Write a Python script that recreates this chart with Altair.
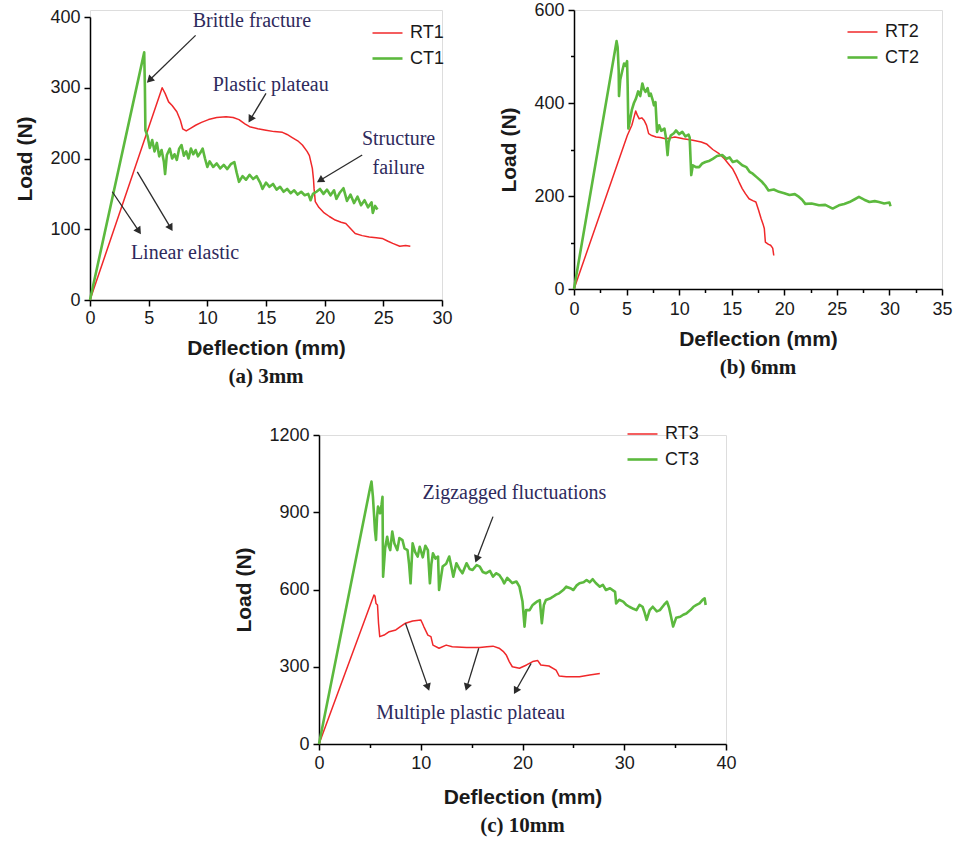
import math
import altair as alt
import pandas as pd

RED = "#f0282a"
GREEN = "#5cb93e"
INK = "#1a1a1a"
NOTE = "#2e2a5c"
ARROW = "#2b2b2b"
SANS = "Liberation Sans"
SERIF = "Liberation Serif"

# Load-deflection curves: (deflection in mm, load in N)
RT1 = [(0, 0), (6.15, 300), (6.4, 292), (6.7, 280), (7.0, 275), (7.4, 266), (7.7, 254), (7.9, 242),
       (8.2, 239), (8.6, 243), (9.0, 247), (9.5, 251), (10.1, 255), (10.8, 258), (11.6, 259), (12.2, 258),
       (12.7, 255), (13.2, 249), (13.6, 245), (14.3, 242), (15.0, 240), (15.7, 238), (16.4, 237), (16.8, 234),
       (17.2, 230), (17.7, 225), (18.1, 219), (18.5, 210), (18.7, 204), (18.95, 186), (19.05, 170), (19.1, 157),
       (19.2, 139), (19.5, 131), (19.9, 124), (20.4, 118), (20.9, 113), (21.4, 110), (21.8, 108), (22.2, 101),
       (22.6, 94), (23.2, 91), (23.8, 89), (24.4, 88), (24.9, 87), (25.4, 83), (25.8, 80), (26.4, 76),
       (26.9, 77), (27.3, 76)]
CT1 = [(0, 0), (4.62, 350), (4.68, 300), (4.72, 240), (4.9, 232), (5.1, 215), (5.3, 226), (5.5, 210),
       (5.7, 222), (5.9, 203), (6.1, 212), (6.3, 195), (6.4, 178), (6.55, 205), (6.8, 214), (7.0, 200),
       (7.2, 206), (7.4, 198), (7.6, 214), (7.8, 219), (8.0, 204), (8.2, 210), (8.4, 200), (8.6, 214),
       (8.8, 206), (9.0, 212), (9.2, 203), (9.4, 208), (9.6, 214), (9.8, 200), (10.0, 188), (10.2, 196),
       (10.5, 188), (10.8, 193), (11.1, 186), (11.4, 191), (11.7, 185), (12.0, 192), (12.3, 195), (12.5, 180),
       (12.7, 167), (13.0, 175), (13.3, 170), (13.6, 177), (13.9, 171), (14.2, 175), (14.5, 166), (14.7, 157),
       (15.0, 166), (15.3, 160), (15.6, 164), (15.9, 156), (16.2, 160), (16.5, 153), (16.8, 157), (17.1, 151),
       (17.4, 155), (17.7, 149), (18.0, 153), (18.3, 148), (18.6, 150), (18.8, 141), (19.0, 150), (19.3, 153),
       (19.6, 157), (19.9, 150), (20.2, 156), (20.5, 148), (20.8, 155), (21.0, 143), (21.3, 152), (21.6, 158),
       (21.9, 140), (22.2, 149), (22.5, 137), (22.8, 146), (23.1, 134), (23.4, 141), (23.7, 131), (24.0, 138),
       (24.1, 123), (24.3, 133), (24.5, 128)]

RT2 = [(0, 0), (5.07, 330), (5.5, 352), (5.87, 383), (6.0, 375), (6.2, 366), (6.45, 368), (6.66, 363),
       (6.9, 352), (7.1, 334), (7.4, 330), (7.8, 327), (8.2, 326), (8.7, 323), (9.2, 325), (9.6, 327),
       (10.4, 323), (11.3, 320), (12.1, 316), (12.6, 312), (13.2, 300), (13.8, 291), (14.3, 280), (14.8, 266),
       (15.1, 258), (15.4, 245), (15.7, 230), (16.0, 216), (16.3, 205), (16.65, 194), (17.0, 190), (17.3, 187),
       (17.55, 170), (17.8, 151), (18.0, 138), (18.1, 130), (18.2, 101), (18.5, 96), (18.7, 94), (18.9, 88),
       (19.0, 72)]
CT2 = [(0, 0), (4.05, 533), (4.15, 520), (4.25, 470), (4.28, 415), (4.4, 450), (4.6, 470), (4.76, 485),
       (4.9, 480), (5.05, 490), (5.1, 440), (5.17, 345), (5.3, 360), (5.5, 385), (5.7, 400), (5.9, 410),
       (6.1, 425), (6.3, 415), (6.5, 442), (6.65, 430), (6.8, 424), (7.0, 432), (7.15, 415), (7.3, 420),
       (7.5, 405), (7.6, 395), (7.75, 402), (7.9, 338), (8.1, 352), (8.3, 340), (8.6, 345), (8.75, 325),
       (8.9, 288), (9.0, 316), (9.2, 330), (9.5, 335), (9.7, 341), (10.0, 333), (10.3, 338), (10.6, 328),
       (10.9, 332), (11.0, 326), (11.15, 245), (11.3, 266), (11.6, 262), (11.9, 262), (12.2, 270), (12.5, 273),
       (12.9, 276), (13.2, 280), (13.6, 286), (14.1, 288), (14.5, 280), (14.8, 283), (15.1, 273), (15.5, 276),
       (16.0, 266), (16.4, 262), (16.7, 252), (17.0, 248), (17.4, 240), (17.9, 230), (18.2, 222), (18.5, 212),
       (19.0, 214), (19.5, 209), (20.0, 206), (20.5, 202), (21.0, 204), (21.4, 198), (21.7, 192), (22.0, 183),
       (22.6, 184), (23.3, 180), (23.9, 181), (24.6, 173), (25.2, 180), (25.7, 183), (26.2, 187), (26.7, 193),
       (27.1, 198), (27.6, 192), (28.1, 187), (28.6, 189), (29.0, 187), (29.5, 184), (30.0, 186), (30.1, 178)]

RT3 = [(0, 0), (5.4, 579), (5.5, 575), (5.6, 546), (5.75, 540), (5.85, 469), (5.97, 417), (6.4, 423),
       (6.9, 436), (7.55, 443), (8.0, 456), (8.5, 469), (9.2, 478), (10.0, 482), (10.15, 470), (10.3, 456),
       (10.7, 423), (11.0, 417), (11.2, 384), (11.8, 372), (12.5, 384), (13.1, 378), (14.5, 375), (15.8, 375),
       (16.5, 378), (17.1, 380), (17.7, 372), (18.1, 360), (18.4, 346), (18.7, 320), (19.0, 300), (19.7, 294),
       (20.4, 307), (21.0, 320), (21.5, 324), (21.8, 307), (22.6, 303), (23.3, 287), (23.6, 264), (24.3, 261),
       (25.6, 261), (26.6, 268), (27.6, 274)]
CT3 = [(0, 0), (5.0, 990), (5.16, 1019), (5.3, 960), (5.4, 896), (5.5, 830), (5.6, 792), (5.7, 880),
       (5.8, 922), (6.0, 896), (6.15, 930), (6.24, 960), (6.3, 650), (6.5, 760), (6.7, 805), (6.85, 770),
       (7.0, 753), (7.2, 825), (7.4, 780), (7.7, 753), (7.9, 800), (8.2, 792), (8.4, 760), (8.7, 753),
       (8.85, 700), (9.0, 624), (9.2, 779), (9.45, 745), (9.7, 728), (9.9, 766), (10.2, 725), (10.45, 770),
       (10.7, 753), (10.9, 624), (11.05, 700), (11.2, 741), (11.45, 720), (11.7, 728), (11.8, 598), (12.15, 689),
       (12.5, 700), (12.8, 728), (13.0, 690), (13.2, 650), (13.5, 702), (13.8, 680), (14.1, 663), (14.5, 702),
       (14.8, 680), (15.1, 676), (15.5, 695), (15.8, 689), (16.1, 668), (16.4, 663), (16.8, 672), (17.1, 650),
       (17.4, 663), (17.7, 657), (18.0, 640), (18.2, 624), (18.5, 645), (18.7, 637), (19.0, 625), (19.4, 631),
       (19.7, 611), (20.0, 553), (20.2, 456), (20.35, 520), (20.7, 520), (21.0, 540), (21.2, 546), (21.5, 555),
       (21.7, 559), (21.9, 469), (22.1, 540), (22.3, 559), (22.7, 565), (23.0, 572), (23.3, 580), (23.6, 585),
       (24.0, 598), (24.3, 611), (24.7, 605), (25.0, 598), (25.3, 615), (25.6, 624), (26.0, 628), (26.3, 637),
       (26.6, 628), (26.9, 640), (27.2, 625), (27.6, 611), (27.9, 618), (28.2, 598), (28.6, 605), (29.1, 591),
       (29.2, 546), (29.5, 560), (29.9, 553), (30.2, 540), (30.5, 533), (30.9, 525), (31.2, 520), (31.5, 540),
       (31.8, 533), (32.0, 510), (32.2, 482), (32.5, 520), (32.8, 533), (33.2, 515), (33.5, 520), (33.9, 540),
       (34.2, 553), (34.4, 530), (34.6, 494), (34.8, 456), (35.1, 490), (35.5, 494), (35.8, 502), (36.1, 507),
       (36.5, 520), (36.8, 533), (37.1, 540), (37.4, 546), (37.7, 560), (37.9, 566), (38.0, 540)]

# Annotation arrows (x_start, y_start, x_end, y_end) and labels (text, x, y), in data units
ARROWS_A = [(9.0, 374, 4.9, 308), (15.0, 292, 13.55, 252), (23.2, 205, 19.4, 167),
            (1.9, 153, 4.3, 94), (4.03, 181, 7.0, 98.5)]
NOTES_A = [("Brittle fracture", 13.8, 394), ("Plastic plateau", 15.4, 304),
           ("Structure", 26.3, 228), ("failure", 26.3, 187), ("Linear elastic", 8.1, 66)]
ARROWS_C = [(17.1, 883, 15.4, 708), (8.5, 469, 10.8, 210), (15.7, 372, 14.45, 210), (20.85, 313, 19.2, 197)]
NOTES_C = [("Zigzagged fluctuations", 19.2, 974), ("Multiple plastic plateau", 14.9, 119)]


def frange(stop, step):
    n = int(round(stop / step))
    return [round(i * step, 4) for i in range(n + 1)]


def make_axis(title, values, major, label_pad, title_pad):
    return alt.Axis(
        title=title, values=values, grid=False, format="d",
        labelExpr=f"datum.value % {major} === 0 ? datum.label : ''",
        tickSize={"condition": {"test": f"datum.value % {major} !== 0", "value": 3.5}, "value": 6},
        domainColor="black", domainWidth=1.5, tickColor="black", tickWidth=1.5,
        labelFont=SANS, labelFontSize=18, labelColor=INK, labelPadding=label_pad,
        labelFlush=False, labelOverlap=False,
        titleFont=SANS, titleFontSize=21, titleFontWeight="bold", titleColor=INK,
        titlePadding=title_pad,
    )


def panel(rt, ct, names, caption, xmax, xmajor, xminor, ymax, ymajor, yminor,
          width, height, top, legend_xy, arrows=(), notes=(), xlabel_pad=3, xtitle_pad=10):
    rows = []
    for name, pts in zip(names, (rt, ct)):
        for i, (x, y) in enumerate(pts):
            rows.append({"x": x, "y": y, "series": name, "i": i})
    df = pd.DataFrame(rows)

    xs = alt.Scale(domain=[0, xmax], nice=False, zero=True)
    ys = alt.Scale(domain=[0, ymax], nice=False, zero=True, range=[height, top])
    xax = make_axis("Deflection (mm)", frange(xmax, xminor), xmajor, xlabel_pad, xtitle_pad)
    yax = make_axis("Load (N)", frange(ymax, yminor), ymajor, 4, 14)

    lines = alt.Chart(df).mark_line(strokeJoin="round").encode(
        x=alt.X("x:Q", scale=xs, axis=xax),
        y=alt.Y("y:Q", scale=ys, axis=yax),
        color=alt.Color("series:N", scale=alt.Scale(domain=list(names), range=[RED, GREEN]),
                        legend=alt.Legend(orient="none", legendX=legend_xy[0], legendY=legend_xy[1],
                                          title=None, symbolType="stroke", symbolSize=900,
                                          symbolStrokeWidth=1.8, labelFont=SANS, labelFontSize=18,
                                          labelColor=INK, labelOffset=6, rowPadding=0, padding=0)),
        strokeWidth=alt.StrokeWidth("series:N", scale=alt.Scale(domain=list(names), range=[1.5, 2.6]),
                                    legend=None),
        order="i:Q",
    )
    layers = [lines]

    if arrows:
        kx = width / xmax
        ky = (height - top) / ymax
        segs, heads = [], []
        for x1, y1, x2, y2 in arrows:
            dx = (x2 - x1) * kx
            dy = -(y2 - y1) * ky
            ln = math.hypot(dx, dy)
            ux, uy = dx / ln, dy / ln
            cx = x2 - 4 * ux / kx
            cy = y2 + 4 * uy / ky
            ang = math.degrees(math.atan2(dx, -dy)) % 360
            segs.append({"x": x1, "y": y1, "x2": cx, "y2": cy})
            heads.append({"x": cx, "y": cy, "angle": ang})
        layers.append(alt.Chart(pd.DataFrame(segs)).mark_rule(color=ARROW, strokeWidth=1.3).encode(
            x=alt.X("x:Q", scale=xs), y=alt.Y("y:Q", scale=ys), x2="x2:Q", y2="y2:Q"))
        layers.append(alt.Chart(pd.DataFrame(heads)).mark_point(
            shape="triangle", filled=True, size=70, color=ARROW, opacity=1).encode(
            x=alt.X("x:Q", scale=xs), y=alt.Y("y:Q", scale=ys),
            angle=alt.Angle("angle:Q", scale=None)))
    if notes:
        ndf = pd.DataFrame([{"t": t, "x": x, "y": y} for t, x, y in notes])
        layers.append(alt.Chart(ndf).mark_text(font=SERIF, fontSize=20, color=NOTE).encode(
            x=alt.X("x:Q", scale=xs), y=alt.Y("y:Q", scale=ys), text="t:N"))

    return alt.layer(*layers).properties(
        width=width, height=height,
        title=alt.TitleParams(caption, orient="bottom", anchor="middle", frame="group",
                              font=SERIF, fontSize=21, fontWeight="bold", color=INK, offset=8),
    )


pa = panel(RT1, CT1, ("RT1", "CT1"), "(a) 3mm", 30, 5, 2.5, 400, 100, 50,
           352, 290, 7, (281, 7), ARROWS_A, NOTES_A)
pb = panel(RT2, CT2, ("RT2", "CT2"), "(b) 6mm", 35, 5, 2.5, 600, 200, 100,
           368, 279, 0, (272, 6), xlabel_pad=5, xtitle_pad=10)
pc = panel(RT3, CT3, ("RT3", "CT3"), "(c) 10mm", 40, 10, 5, 1200, 300, 150,
           407, 309, 0, (307, -17), ARROWS_C, NOTES_C, xlabel_pad=4, xtitle_pad=14)

# invisible cell that holds panel (c) away from the left edge
spacer = alt.Chart(pd.DataFrame({"a": [0], "b": [1]})).mark_rule(
    opacity=0, strokeOpacity=0, strokeWidth=0, color="white").encode(
    x=alt.X("a:Q", axis=None, scale=alt.Scale(domain=[0, 1])),
    x2="b:Q",
    y=alt.value(0),
).properties(width=1, height=1,
             view=alt.ViewBackground(stroke="white", strokeOpacity=0, fillOpacity=0))

top_row = alt.hconcat(pa, pb, spacing=132, bounds="flush").resolve_scale(
    x="independent", y="independent", color="independent", strokeWidth="independent")
bottom_row = alt.hconcat(spacer, pc, spacing=228, bounds="flush").resolve_scale(
    x="independent", y="independent", color="independent", strokeWidth="independent")

chart = alt.vconcat(top_row, bottom_row, spacing=29).resolve_scale(
    x="independent", y="independent", color="independent", strokeWidth="independent"
).properties(
    padding={"left": 14, "top": 0, "right": 5, "bottom": 0}
).configure_view(stroke=None).configure(background="white")

chart.save("out.html", embed_options={"renderer": "svg", "actions": False})
